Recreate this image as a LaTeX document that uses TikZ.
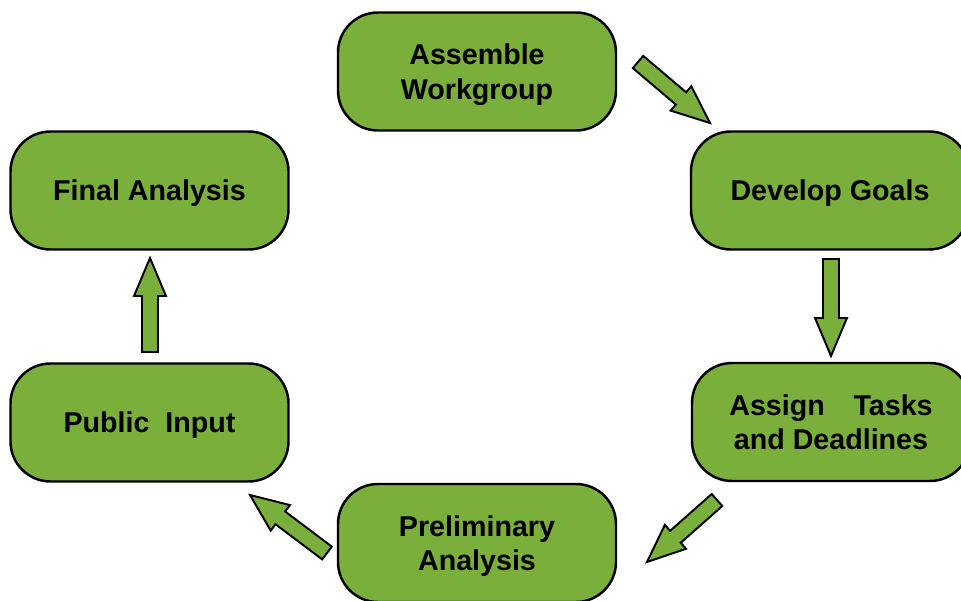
\documentclass[tikz,border=0pt]{standalone}
\usepackage{fontspec}
\setmainfont{Liberation Sans}
\usetikzlibrary{calc}
\definecolor{leaf}{RGB}{122,175,60}

\begin{document}
\begin{tikzpicture}[
		stage/.style={draw=black, line width=1.4pt, fill=leaf, rounded corners=0.8cm,
			minimum width=5.56cm, minimum height=2.36cm, align=center, text depth=-2pt,
			font=\fontsize{16.3}{19.5}\selectfont\bfseries},
		blockarr/.style={draw=black, line width=1.1pt, fill=leaf, line join=miter}]
		\useasboundingbox (0,0) rectangle (19.22,12);
		% the six stages
		\node[stage] (assemble) at (9.54,10.57) {Assemble\\Workgroup};
		\node[stage] (goals) at (16.6,8.19) {Develop Goals};
		\node[stage] (tasks) at (16.62,3.56) {Assign\quad Tasks\\and Deadlines};
		\node[stage] (prelim) at (9.54,1.14) {Preliminary\\Analysis};
		\node[stage] (public) at (2.99,3.55) {Public\ \ Input};
		\node[stage] (final) at (2.99,8.19) {Final Analysis};
		% ends of the block arrows
		\coordinate (a1s) at (12.76,10.76); \coordinate (a1e) at (14.2,9.54);
		\coordinate (a2s) at (16.62,6.82); \coordinate (a2e) at (16.62,4.88);
		\coordinate (a3s) at (14.34,2.0); \coordinate (a3e) at (12.94,0.76);
		\coordinate (a4s) at (6.54,0.94); \coordinate (a4e) at (5.0,2.1);
		\coordinate (a5s) at (3.0,4.96); \coordinate (a5e) at (3.0,6.84);
		\foreach \s/\e in {a1s/a1e, a2s/a2e, a3s/a3e, a4s/a4e, a5s/a5e} {
			\coordinate (\s-h) at ($(\e)!0.76cm!(\s)$);
			\draw[blockarr] ($(\s)!0.16cm!90:(\e)$) -- ($(\s-h)!0.16cm!90:(\e)$)
				-- ($(\s-h)!0.32cm!90:(\e)$) -- (\e) -- ($(\s-h)!0.32cm!-90:(\e)$)
				-- ($(\s-h)!0.16cm!-90:(\e)$) -- ($(\s)!0.16cm!-90:(\e)$) -- cycle;
		}
	\end{tikzpicture}
\end{document}
